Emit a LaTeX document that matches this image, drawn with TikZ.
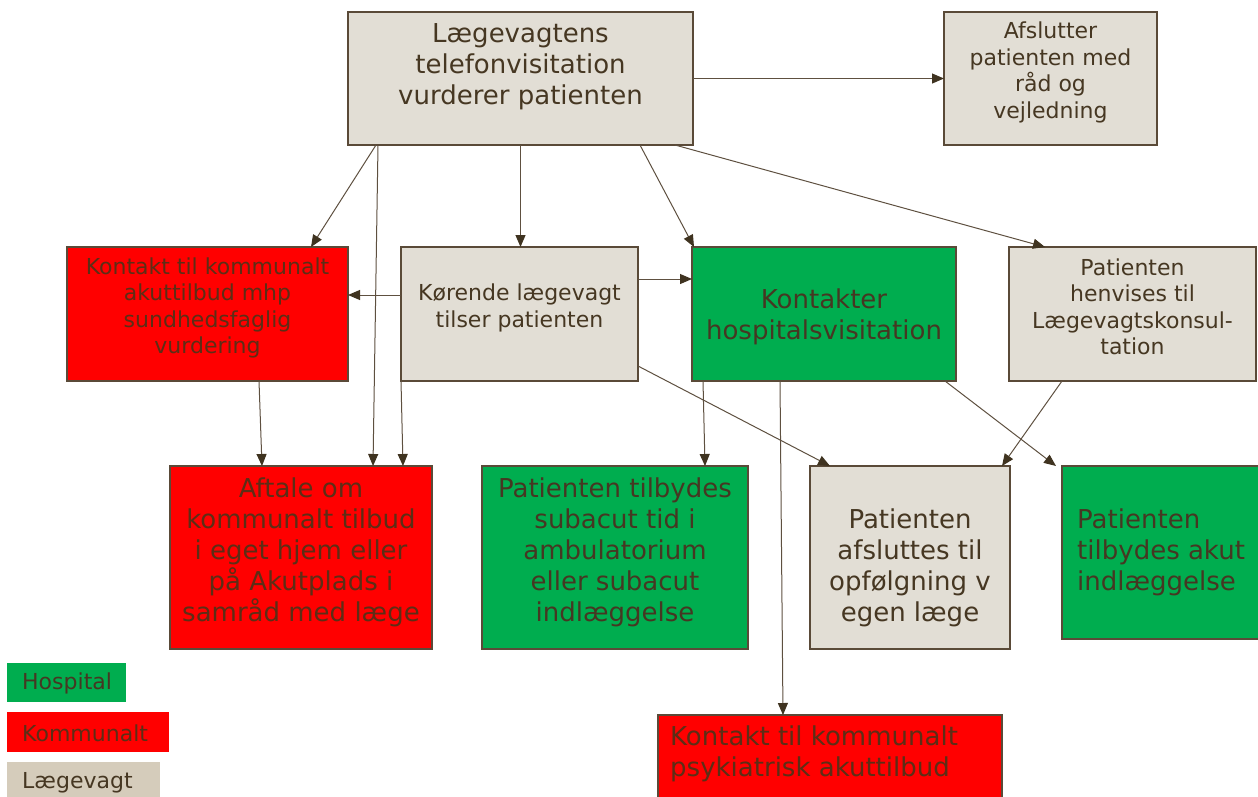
\documentclass[tikz,border=0pt]{standalone}
\usepackage{fontspec}
\setmainfont{DejaVu Sans}
\usetikzlibrary{arrows.meta}
\definecolor{beige}{HTML}{E2DED5}
\definecolor{hosp}{HTML}{00AD4F}
\definecolor{komm}{HTML}{FF0000}
\definecolor{legbeige}{HTML}{D5CCBB}
\definecolor{edge}{HTML}{5A4A38}
\definecolor{txtc}{HTML}{463722}
\definecolor{redtxt}{HTML}{5C2E16}
\definecolor{lineC}{HTML}{5E5040}
\definecolor{tipc}{HTML}{3F3320}
\tikzset{
  box/.style={draw=edge, line width=1.3pt, anchor=north west, inner sep=0pt, outer sep=0pt},
  leg/.style={anchor=north west, inner sep=0pt, outer sep=0pt},
  txt/.style={text=txtc, inner sep=0pt, align=center},
  fs/.style={font=\fontsize{22}{26.5}\selectfont},
  fl/.style={font=\fontsize{26}{31}\selectfont},
  conn/.style={draw=lineC, line width=1pt, -{Triangle[length=12pt,width=10pt,color=tipc]}},
}
\begin{document}
\begin{tikzpicture}[x=1pt,y=-1pt]
\useasboundingbox (0,0) rectangle (1258,796);
% boxes
\node[box, fill=beige, minimum width=345, minimum height=133] (A) at (348,12) {};
\node[box, fill=beige, minimum width=213, minimum height=133] (Af) at (944,12) {};
\node[box, fill=komm, minimum width=281, minimum height=134] (Kon) at (67,247) {};
\node[box, fill=beige, minimum width=237, minimum height=134] (Kor) at (401,247) {};
\node[box, fill=hosp, minimum width=264, minimum height=134] (Kh) at (692,247) {};
\node[box, fill=beige, minimum width=247, minimum height=134] (Hv) at (1009,247) {};
\node[box, fill=komm, minimum width=262, minimum height=183] (Aft) at (170,466) {};
\node[box, fill=hosp, minimum width=266, minimum height=183] (Sub) at (482,466) {};
\node[box, fill=beige, minimum width=200, minimum height=183] (Afs) at (810,466) {};
\node[box, fill=hosp, minimum width=200, minimum height=173] (Akut) at (1062,466) {};
\node[box, fill=komm, minimum width=344, minimum height=100] (Psy) at (658,715) {};
% legend
\node[leg, fill=hosp, minimum width=119, minimum height=39] (LH) at (7,663) {};
\node[leg, fill=komm, minimum width=162, minimum height=40] (LK) at (7,712) {};
\node[leg, fill=legbeige, minimum width=153, minimum height=40] (LL) at (7,762) {};
% texts
\node[txt, fl] (tA) at (520.5,66.5) {Lægevagtens\\telefonvisitation\\vurderer patienten};
\node[txt, fs] (tAf) at (1050.5,72.5) {Afslutter\\patienten med\\råd og\\vejledning};
\node[txt, fs, text=redtxt] (tKon) at (207.5,308) {Kontakt til kommunalt\\akuttilbud mhp\\sundhedsfaglig\\vurdering};
\node[txt, fs] (tKor) at (519.5,308) {Kørende lægevagt\\tilser patienten};
\node[txt, fl] (tKh) at (824,317) {Kontakter\\hospitalsvisitation};
\node[txt, fs] (tHv) at (1132.5,307) {Patienten\\henvises til\\Lægevagtskonsul-\\tation};
\node[txt, fl, text=redtxt] (tAft) at (301,552) {Aftale om\\kommunalt tilbud\\i eget hjem eller\\på Akutplads i\\samråd med læge};
\node[txt, fl] (tSub) at (615,552) {Patienten tilbydes\\subacut tid i\\ambulatorium\\eller subacut\\indlæggelse};
\node[txt, fl] (tAfs) at (910,567.5) {Patienten\\afsluttes til\\opfølgning v\\egen læge};
\node[txt, fl, anchor=west, align=left] (tAkut) at (1077,552) {Patienten\\tilbydes akut\\indlæggelse};
\node[txt, fl, anchor=west, align=left, text=redtxt] (tPsy) at (670,754) {Kontakt til kommunalt\\psykiatrisk akuttilbud};
\node[txt, fs, anchor=west] (tLH) at (22,683) {Hospital};
\node[txt, fs, anchor=west, text=redtxt] (tLK) at (22,733) {Kommunalt};
\node[txt, fs, anchor=west] (tLL) at (22,783) {Lægevagt};
% connectors
\draw[conn] (A.east) -- (Af.west);
\draw[conn] ([xshift=28pt]A.south west) -- ([xshift=-37pt]Kon.north east);
\draw[conn] ([xshift=30pt]A.south west) -- ([xshift=203pt]Aft.north west);
\draw[conn] (A.south) -- (A.south |- Kor.north);
\draw[conn] ([xshift=-53pt]A.south east) -- ([xshift=2pt]Kh.north west);
\draw[conn] ([xshift=-18pt]A.south east) -- ([xshift=36pt]Hv.north west);
\draw[conn] ([yshift=-48pt]Kor.north west) -- ([yshift=-48pt]Kon.north east);
\draw[conn] ([yshift=-32pt]Kor.north east) -- ([yshift=-32pt]Kh.north west);
\draw[conn] (Kor.south west) -- ([xshift=233pt]Aft.north west);
\draw[conn] ([xshift=192pt]Kon.south west) -- ([xshift=92pt]Aft.north west);
\draw[conn] ([yshift=15pt]Kor.south east) -- ([xshift=20pt]Afs.north west);
\draw[conn] ([xshift=11pt]Kh.south west) -- ([xshift=223pt]Sub.north west);
\draw[conn] ([xshift=88pt]Kh.south west) -- ([xshift=125pt]Psy.north west);
\draw[conn] ([xshift=-11pt]Kh.south east) -- ([xshift=-6pt]Akut.north west);
\draw[conn] ([xshift=53pt]Hv.south west) -- ([xshift=-8pt]Afs.north east);
\end{tikzpicture}
\end{document}
